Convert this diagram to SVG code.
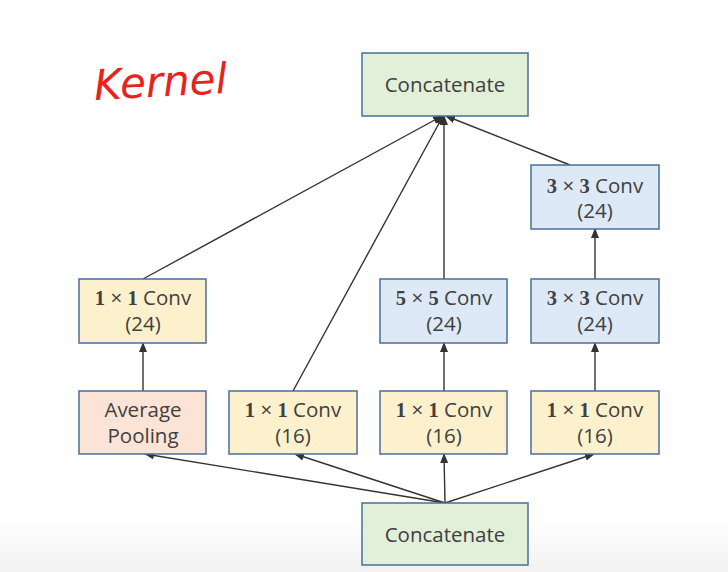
<svg xmlns="http://www.w3.org/2000/svg" width="728" height="572" viewBox="0 0 728 572">
<defs>
<marker id="ah" markerWidth="10" markerHeight="10" refX="9" refY="5" orient="auto" markerUnits="userSpaceOnUse">
<path d="M0,1 L10,5 L0,9 z" fill="#333"/>
</marker>
<linearGradient id="bg" x1="0" y1="0" x2="0" y2="1">
<stop offset="0" stop-color="#ffffff"/>
<stop offset="0.9" stop-color="#ffffff"/>
<stop offset="1" stop-color="#f2f2f2"/>
</linearGradient>
</defs>
<style>
.box{stroke:#4a6f96;stroke-width:1.5}
.g{fill:#e2efd9}
.b{fill:#dde9f7}
.y{fill:#fdf1cd}
.p{fill:#fbe4d6}
.t{font-family:"Open Sans","Liberation Sans",sans-serif;font-size:20.5px;fill:#404040;text-anchor:middle}
.n{font-family:"Liberation Serif",serif;font-weight:bold}
.c line{stroke:#333;stroke-width:1.4;marker-end:url(#ah)}
</style>
<rect width="728" height="572" fill="url(#bg)"/>
<text x="94" y="97" font-family="DejaVu Sans, sans-serif" font-style="italic" font-size="42" fill="#e8231c" font-weight="200" transform="rotate(-3 150 85)">Kernel</text>

<g class="c">
<line x1="445" y1="503" x2="145" y2="454"/>
<line x1="445" y1="503" x2="295" y2="454"/>
<line x1="445" y1="503" x2="444" y2="454"/>
<line x1="445" y1="503" x2="594" y2="454"/>
<line x1="143" y1="391" x2="143" y2="343"/>
<line x1="444" y1="391" x2="444" y2="343"/>
<line x1="595" y1="391" x2="595" y2="343"/>
<line x1="595" y1="279" x2="595" y2="229"/>
<line x1="143" y1="279" x2="442" y2="116"/>
<line x1="293" y1="391" x2="443" y2="116"/>
<line x1="444" y1="279" x2="444" y2="116"/>
<line x1="570" y1="165" x2="446" y2="116"/>
</g>

<g id="concat-top"><rect class="box g" x="362" y="53" width="166" height="63"/><text class="t" x="445" y="92">Concatenate</text></g>
<g id="conv3-top"><rect class="box b" x="531" y="165" width="128" height="64"/><text class="t" x="595" y="193"><tspan class="n">3</tspan> × <tspan class="n">3</tspan> Conv</text><text class="t" x="595" y="218">(24)</text></g>
<g id="conv1-24"><rect class="box y" x="79" y="279" width="127" height="64"/><text class="t" x="143" y="305"><tspan class="n">1</tspan> × <tspan class="n">1</tspan> Conv</text><text class="t" x="143" y="331">(24)</text></g>
<g id="conv5"><rect class="box b" x="380" y="279" width="127" height="64"/><text class="t" x="444" y="305"><tspan class="n">5</tspan> × <tspan class="n">5</tspan> Conv</text><text class="t" x="444" y="331">(24)</text></g>
<g id="conv3-mid"><rect class="box b" x="531" y="279" width="128" height="64"/><text class="t" x="595" y="305"><tspan class="n">3</tspan> × <tspan class="n">3</tspan> Conv</text><text class="t" x="595" y="331">(24)</text></g>
<g id="avgpool"><rect class="box p" x="79" y="391" width="127" height="63"/><text class="t" x="143" y="417">Average</text><text class="t" x="143" y="443">Pooling</text></g>
<g id="conv1-a"><rect class="box y" x="229" y="391" width="128" height="63"/><text class="t" x="293" y="417"><tspan class="n">1</tspan> × <tspan class="n">1</tspan> Conv</text><text class="t" x="293" y="443">(16)</text></g>
<g id="conv1-b"><rect class="box y" x="380" y="391" width="127" height="63"/><text class="t" x="444" y="417"><tspan class="n">1</tspan> × <tspan class="n">1</tspan> Conv</text><text class="t" x="444" y="443">(16)</text></g>
<g id="conv1-c"><rect class="box y" x="531" y="391" width="128" height="63"/><text class="t" x="595" y="417"><tspan class="n">1</tspan> × <tspan class="n">1</tspan> Conv</text><text class="t" x="595" y="443">(16)</text></g>
<g id="concat-bottom"><rect class="box g" x="362" y="503" width="166" height="62"/><text class="t" x="445" y="542">Concatenate</text></g>
</svg>
